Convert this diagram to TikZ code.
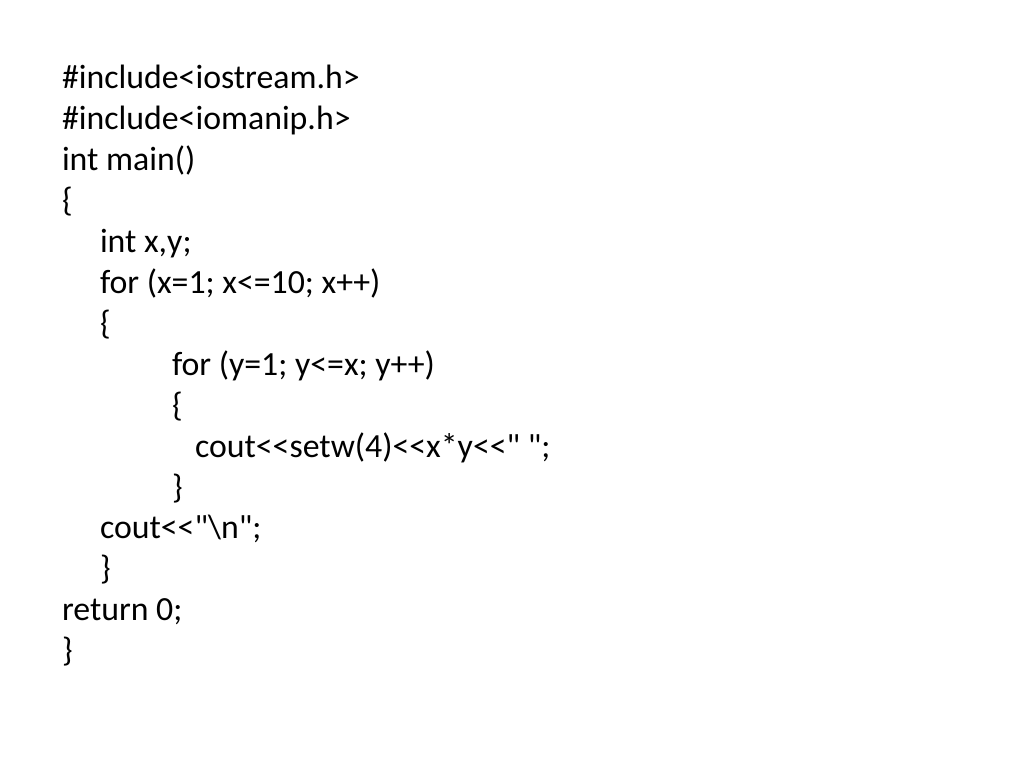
\documentclass[tikz,border=0pt]{standalone}
\usepackage{fontspec}
\setmainfont{Carlito}[Ligatures={TeXOff,NoCommon}]
\begin{document}
\begin{tikzpicture}[x=1pt,y=-1pt,
  code/.style={anchor=base west,inner sep=0pt,outer sep=0pt,font=\fontsize{33.8}{40}\selectfont}]
\useasboundingbox[fill=white] (0,0) rectangle (1024,768);
\def\ls{40.95}
\node[code] (l1)  at (62,88.5+0*\ls)  {\#include<iostream.h>};
\node[code] (l2)  at (62,88.5+1*\ls)  {\#include<iomanip.h>};
\node[code] (l3)  at (62,88.5+2*\ls)  {int main()};
\node[code] (l4)  at (62,88.5+3*\ls)  {\{};
\node[code] (l5)  at (100,88.5+4*\ls) {int x,y;};
\node[code] (l6)  at (100,88.5+5*\ls) {for (x=1; x<=10; x++)};
\node[code] (l7)  at (100,88.5+6*\ls) {\{};
\node[code] (l8)  at (172,88.5+7*\ls) {for (y=1; y<=x; y++)};
\node[code] (l9)  at (172,88.5+8*\ls) {\{};
\node[code] (l10) at (195,88.5+9*\ls) {cout<<setw(4)<<x*y<<" ";};
\node[code] (l11) at (172,88.5+10*\ls) {\}};
\node[code] (l12) at (100,88.5+11*\ls) {cout<<"\textbackslash n";};
\node[code] (l13) at (100,88.5+12*\ls) {\}};
\node[code] (l14) at (62,88.5+13*\ls)  {return 0;};
\node[code] (l15) at (62,88.5+14*\ls)  {\}};
\end{tikzpicture}
\end{document}
